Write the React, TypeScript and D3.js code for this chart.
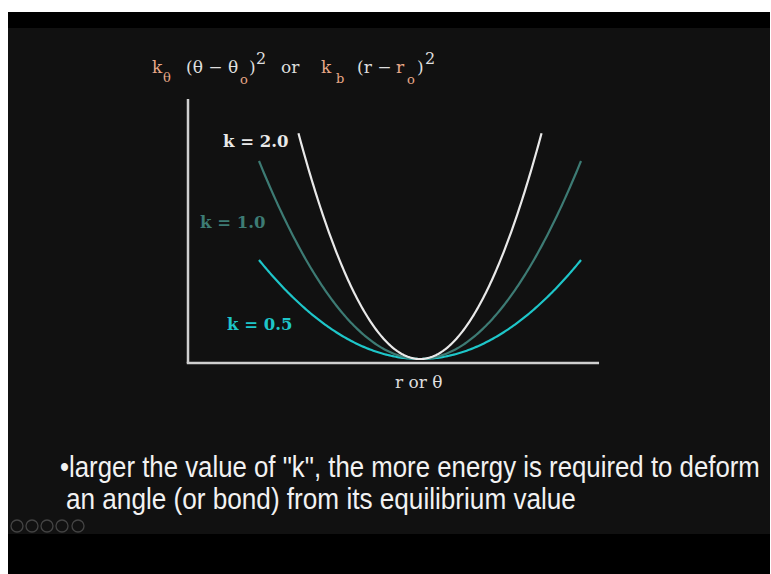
import React, { useLayoutEffect, useRef, useState } from "react";
import * as d3 from "d3";

// Spring constants for the three harmonic wells and the displacement range each is drawn over
const springConstants = [2.0, 1.0, 0.5];
const displacementExtents = [0.755, 1.0, 1.0];
const curveLabels = ["k = 2.0", "k = 1.0", "k = 0.5"];

// Axis extents in data units (displacement, energy)
const displacementDomain = [-1.441, 1.112];
const energyDomain = [-0.02, 1.313];

const xAxisLabel = "r or θ";
const bulletLines = [
  "•larger the value of \"k\", the more energy is required to deform",
  "an angle (or bond) from its equilibrium value",
];

const W = 771;
const H = 574;

const curveColors = ["#e9e9e9", "#3d7b74", "#1ec6c9"];
const labelPos = [
  { x: 223, y: 147 },
  { x: 200, y: 228 },
  { x: 227, y: 330 },
];
// caption line placement: left x, baseline y, target width (narrow face)
const captionLayout = [
  { x: 60, y: 477, w: 700 },
  { x: 66, y: 509, w: 510 },
];

const PEACH = "#e8a888";
const TXT = "#dedede";

export default function App() {
  const captionRefs = useRef<(SVGTextElement | null)[]>([]);
  const [captionScale, setCaptionScale] = useState<number[]>([0.8, 0.8]);

  useLayoutEffect(() => {
    const s = captionLayout.map((c, i) => {
      const el = captionRefs.current[i];
      const natural = el ? el.getComputedTextLength() : 0;
      return natural > 0 ? c.w / natural : 0.8;
    });
    setCaptionScale(s);
  }, []);

  const x = d3.scaleLinear().domain([-1, 1]).range([259, 581]);
  const y = d3.scaleLinear().domain([0, 1]).range([359, 161]);

  const line = d3
    .line<[number, number]>()
    .x((d) => x(d[0]))
    .y((d) => y(d[1]))
    .curve(d3.curveLinear);

  const curves = springConstants.map((k, i) => {
    const w = displacementExtents[i];
    const pts: [number, number][] = d3.range(0, 201).map((j) => {
      const dx = -w + (2 * w * j) / 200;
      return [dx, k * dx * dx];
    });
    return line(pts) || "";
  });

  const x0 = x(displacementDomain[0]);
  const x1 = x(displacementDomain[1]);
  const yAxisBase = y(energyDomain[0]);
  const yTop = y(energyDomain[1]);

  const serif = "'DejaVu Serif', serif";
  const icons = [17, 32, 47, 62, 78];

  return (
    <svg
      width={W}
      height={H}
      viewBox={`0 0 ${W} ${H}`}
      style={{ position: "absolute", left: 0, top: 0, display: "block" }}
    >
      <rect x={0} y={0} width={W} height={H} fill="#ffffff" />
      <rect x={8} y={12} width={762} height={H - 12} fill="#000000" />
      <rect x={8} y={28} width={762} height={506} fill="#111111" />

      {/* formula heading */}
      <g fontFamily={serif} fill={TXT} fontSize={17}>
        <text x={152} y={73} fill={PEACH}>k</text>
        <text x={163} y={82} fill={PEACH} fontSize={13}>θ</text>
        <text x={186} y={73}>(θ − θ</text>
        <text x={240} y={84} fill={PEACH} fontSize={13}>o</text>
        <text x={249} y={73}>)</text>
        <text x={256} y={64} fontSize={16}>2</text>
        <text x={281} y={73}>or</text>
        <text x={321} y={73} fill={PEACH}>k</text>
        <text x={336} y={83} fill={PEACH} fontSize={13}>b</text>
        <text x={357} y={73}>(r − </text>
        <text x={396} y={73} fill={PEACH}>r</text>
        <text x={407} y={84} fill={PEACH} fontSize={13}>o</text>
        <text x={417} y={73}>)</text>
        <text x={425} y={64} fontSize={16}>2</text>
      </g>

      {/* axes */}
      <line x1={x0} y1={yTop} x2={x0} y2={yAxisBase} stroke="#cfcfcf" strokeWidth={2.5} />
      <line x1={x0 - 1.25} y1={yAxisBase} x2={x1} y2={yAxisBase} stroke="#cfcfcf" strokeWidth={2.5} />

      {/* energy curves, widest first so the stiffest lies on top */}
      {[2, 1, 0].map((i) => (
        <path key={i} d={curves[i]} fill="none" stroke={curveColors[i]} strokeWidth={2.2} />
      ))}

      {curveLabels.map((lab, i) => (
        <text
          key={lab}
          x={labelPos[i].x}
          y={labelPos[i].y}
          fill={curveColors[i]}
          fontFamily={serif}
          fontWeight="bold"
          fontSize={16.5}
        >
          {lab}
        </text>
      ))}

      <text x={395} y={388} fill={TXT} fontFamily={serif} fontSize={17}>
        {xAxisLabel}
      </text>

      {/* caption, horizontally condensed */}
      {captionLayout.map((c, i) => (
        <g key={i} transform={`translate(${c.x},${c.y}) scale(${captionScale[i]},1)`}>
          <text
            ref={(el) => {
              captionRefs.current[i] = el;
            }}
            x={0}
            y={0}
            fontFamily="'Liberation Sans', Arial, sans-serif"
            fill="#f2f2f2"
            fontSize={30}
          >
            {bulletLines[i]}
          </text>
        </g>
      ))}

      {/* player controls */}
      {icons.map((cx) => (
        <circle key={cx} cx={cx} cy={526} r={6} fill="none" stroke="#444444" strokeWidth={1.3} />
      ))}
    </svg>
  );
}
